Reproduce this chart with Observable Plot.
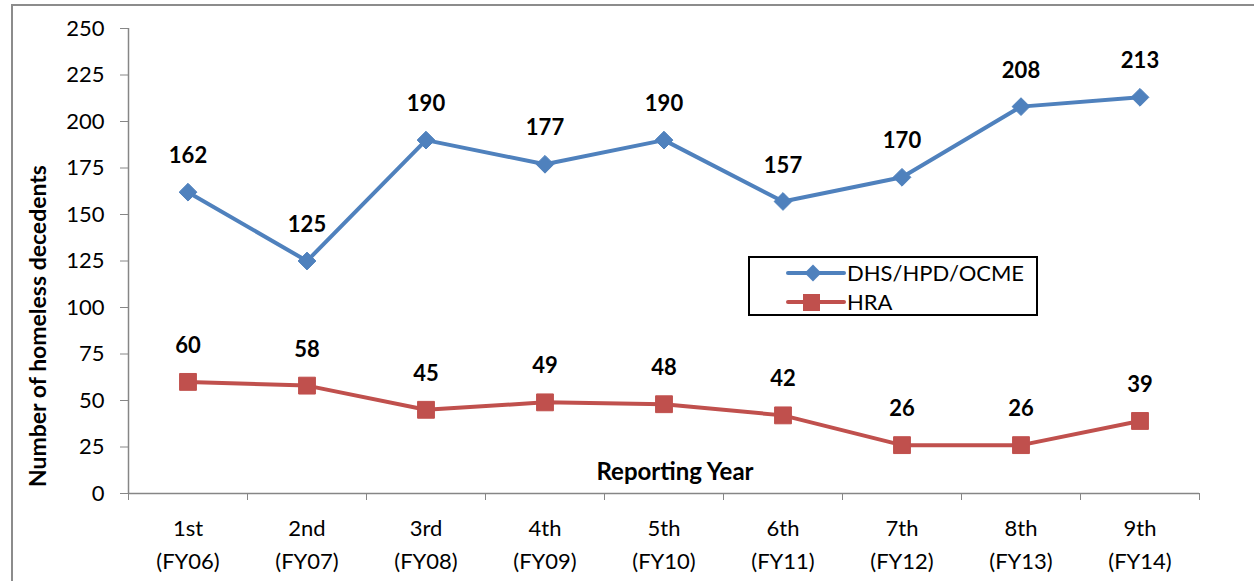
<!DOCTYPE html>
<html>
<head>
<meta charset="utf-8">
<script src="https://cdn.jsdelivr.net/npm/d3@7"></script>
<script src="https://cdn.jsdelivr.net/npm/@observablehq/plot@0.6"></script>
<style>
  html, body { margin: 0; padding: 0; background: #fff; }
  #wrap { position: relative; width: 1254px; height: 581px; overflow: hidden; font-family: Lato, "Open Sans", sans-serif; }
  #frame { position: absolute; left: 11px; top: 4px; width: 1300px; height: 700px; border: 2px solid #8c8c8c; box-sizing: border-box; }
  #legend { position: absolute; left: 748px; top: 256px; width: 290px; height: 60px; border: 2px solid #000; box-sizing: border-box; background: #fff; }
  #chart { position: absolute; left: 0; top: 0; }
</style>
</head>
<body>
<div id="wrap">
  <div id="frame"></div>
  <div id="chart"></div>
  <div id="legend"></div>
</div>
<script>
const ordinals = ["1st", "2nd", "3rd", "4th", "5th", "6th", "7th", "8th", "9th"];
const fiscalYears = ["(FY06)", "(FY07)", "(FY08)", "(FY09)", "(FY10)", "(FY11)", "(FY12)", "(FY13)", "(FY14)"];
const dhsValues = [162, 125, 190, 177, 190, 157, 170, 208, 213];
const hraValues = [60, 58, 45, 49, 48, 42, 26, 26, 39];
const seriesNames = ["DHS/HPD/OCME", "HRA"];
const seriesColors = ["#4F81BD", "#C0504D"];
const yTicks = [0, 25, 50, 75, 100, 125, 150, 175, 200, 225, 250];

const idx = ordinals.map((_, i) => i + 1);
const dhs = idx.map((x, i) => ({x, y: dhsValues[i]}));
const hra = idx.map((x, i) => ({x, y: hraValues[i]}));
const bounds = d3.range(0.5, ordinals.length + 1, 1);

const font = "Lato, 'Open Sans', sans-serif";
const axisColor = "#868686";

const chart = Plot.plot({
  width: 1254,
  height: 581,
  marginLeft: 128,
  marginRight: 55,
  marginTop: 28,
  marginBottom: 88,
  style: {fontFamily: font, fontSize: "22px", color: "#000", background: "transparent", overflow: "visible"},
  x: {type: "linear", domain: [0.5, ordinals.length + 0.5]},
  y: {domain: [0, 250]},
  marks: [
    Plot.ruleY([0], {stroke: axisColor, strokeWidth: 1.5}),
    Plot.ruleX([0.5], {stroke: axisColor, strokeWidth: 1.5}),
    Plot.axisY({ticks: yTicks, tickSize: 8, tickPadding: 16, stroke: axisColor, fontSize: 22, label: null}),
    Plot.axisX({ticks: bounds, tickSize: 7, tickFormat: () => "", stroke: axisColor, label: null}),
    Plot.axisX({ticks: idx, tickSize: 0, tickPadding: 27, tickFormat: d => ordinals[d - 1], fontSize: 22, label: null}),
    Plot.axisX({ticks: idx, tickSize: 0, tickPadding: 60, tickFormat: d => fiscalYears[d - 1], fontSize: 22, label: null}),
    Plot.line(dhs, {x: "x", y: "y", stroke: seriesColors[0], strokeWidth: 4}),
    Plot.line(hra, {x: "x", y: "y", stroke: seriesColors[1], strokeWidth: 4}),
    Plot.dot(dhs, {x: "x", y: "y", symbol: "diamond2", r: 8, fill: seriesColors[0], stroke: seriesColors[0], strokeWidth: 1}),
    Plot.dot(hra, {x: "x", y: "y", symbol: "square", r: 9.5, fill: seriesColors[1], stroke: seriesColors[1], strokeWidth: 1}),
    Plot.text(dhs, {x: "x", y: "y", text: d => String(d.y), dy: -36, fontWeight: "bold", fontSize: 22, fill: "#000"}),
    Plot.text(hra, {x: "x", y: "y", text: d => String(d.y), dy: -36, fontWeight: "bold", fontSize: 22, fill: "#000"}),
    Plot.text(["Reporting Year"], {frameAnchor: "bottom", dx: 11, dy: -14, fontWeight: "bold", fontSize: 24, fill: "#000"}),
    Plot.text(["Number of homeless decedents"], {frameAnchor: "left", textAnchor: "middle", rotate: -90, dx: -90, dy: 65, fontWeight: "bold", fontSize: 23, fill: "#000"})
  ]
});
document.getElementById("chart").appendChild(chart);

// legend
const lg = d3.select("#legend").append("svg").attr("width", 286).attr("height", 56).style("display", "block");
seriesNames.forEach((name, i) => {
  const y = 15 + i * 29;
  lg.append("line").attr("x1", 38).attr("x2", 94).attr("y1", y).attr("y2", y)
    .attr("stroke", seriesColors[i]).attr("stroke-width", 4).attr("stroke-linecap", "round");
  if (i === 0) {
    lg.append("path").attr("d", d3.symbol(d3.symbolDiamond2, 180)()).attr("transform", `translate(63,${y})`).attr("fill", seriesColors[i]);
  } else {
    lg.append("rect").attr("x", 53).attr("y", y - 8).attr("width", 17).attr("height", 17).attr("fill", seriesColors[i]);
  }
  lg.append("text").attr("x", 97).attr("y", y).attr("dy", "0.35em").attr("font-family", font).attr("font-size", 22).text(name);
});
</script>
</body>
</html>
